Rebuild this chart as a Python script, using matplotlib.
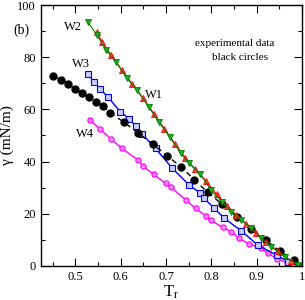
import matplotlib

matplotlib.use("Agg")
import matplotlib.pyplot as plt
from matplotlib.ticker import MultipleLocator

plt.rcParams["font.family"] = ["Liberation Serif", "DejaVu Serif"]
plt.rcParams["mathtext.fontset"] = "stix"

# experimental data (black circles)
exp_t = [0.451, 0.468, 0.484, 0.499, 0.514, 0.530, 0.546, 0.562, 0.576, 0.608,
         0.639, 0.671, 0.702, 0.733, 0.762, 0.792, 0.824, 0.857, 0.888, 0.920,
         0.951, 0.983]
exp_g = [72.9, 71.2, 69.7, 67.9, 66.2, 64.7, 62.9, 61.3, 58.8, 55.0,
         50.9, 46.7, 42.3, 38.0, 33.1, 28.2, 23.6, 18.6, 14.3, 9.9,
         5.6, 2.2]

# W1 (red up triangles)
w1_t = [0.548, 0.558, 0.579, 0.602, 0.625, 0.649, 0.673, 0.696, 0.720, 0.742,
        0.764, 0.788, 0.812, 0.834, 0.855, 0.877, 0.899, 0.921, 0.947, 0.975,
        0.998]
w1_g = [89.5, 86.0, 80.8, 75.2, 69.8, 64.4, 58.4, 52.6, 46.8, 41.5,
        37.0, 32.5, 27.4, 23.0, 19.4, 16.1, 12.4, 9.0, 5.5, 2.0,
        0.1]

# W2 (green down triangles)
w2_t = [0.527, 0.548, 0.568, 0.590, 0.614, 0.636, 0.662, 0.684, 0.708, 0.733,
        0.751, 0.776, 0.799, 0.824, 0.844, 0.866, 0.888, 0.910, 0.932, 0.962,
        0.992]
w2_g = [93.6, 88.5, 82.7, 78.2, 71.9, 67.4, 61.0, 55.2, 49.5, 43.1,
        39.3, 35.4, 29.0, 24.5, 20.7, 17.5, 14.5, 10.6, 7.3, 3.5,
        0.3]

# W3 (blue squares)
w3_t = [0.527, 0.542, 0.555, 0.572, 0.599, 0.618, 0.633, 0.648, 0.677, 0.714,
        0.751, 0.776, 0.784, 0.807, 0.829, 0.866, 0.903, 0.944, 0.970, 0.996]
w3_g = [73.5, 70.6, 67.7, 64.8, 59.1, 56.5, 53.6, 50.4, 45.0, 37.4,
        31.0, 27.8, 25.9, 22.0, 18.2, 13.4, 7.9, 4.1, 1.5, 0.0]

# W4 (magenta circles)
w4_t = [0.533, 0.555, 0.579, 0.603, 0.639, 0.649, 0.673, 0.699, 0.710, 0.744,
        0.766, 0.788, 0.799, 0.825, 0.844, 0.862, 0.884, 0.910, 0.925, 0.944,
        0.966, 0.988, 1.000]
w4_g = [55.9, 52.3, 48.6, 45.0, 40.5, 38.2, 35.1, 31.6, 30.3, 25.2,
        22.0, 19.1, 17.5, 14.7, 13.0, 10.5, 8.3, 6.7, 4.8, 2.8,
        1.2, 0.3, 0.0]

fig = plt.figure(figsize=(3.05, 3.0), dpi=100)
ax = fig.add_axes([0.134, 0.114, 0.856, 0.869])

ax.plot(w4_t, w4_g, color="#ff00ff", linewidth=1.0, marker="o", markersize=3.8,
        markerfacecolor="#ff88ff", markeredgecolor="#ff00ff", markeredgewidth=0.8)
ax.plot(w3_t, w3_g, color="#0000ff", linewidth=1.0, marker="s", markersize=3.8,
        markerfacecolor="#c8ccff", markeredgecolor="#0000ff", markeredgewidth=0.8)
ax.plot(exp_t, exp_g, color="black", linewidth=1.0, linestyle=(0, (4, 3)),
        marker="o", markersize=5, markerfacecolor="black", markeredgecolor="black")
ax.plot(w1_t, w1_g, color="#ff0000", linewidth=1.0, marker="^", markersize=4.2,
        markerfacecolor="#ff4040", markeredgecolor="#ff0000", markeredgewidth=0.6)
ax.plot(w2_t, w2_g, color="#008000", linewidth=0.8, marker="v", markersize=4.5,
        markerfacecolor="#22aa22", markeredgecolor="#008000", markeredgewidth=0.6)

ax.set_xlim(0.424, 1.0)
ax.set_ylim(0, 100)
ax.xaxis.set_major_locator(MultipleLocator(0.1))
ax.xaxis.set_minor_locator(MultipleLocator(0.05))
ax.yaxis.set_major_locator(MultipleLocator(20))
ax.yaxis.set_minor_locator(MultipleLocator(10))
ax.set_xticks([0.5, 0.6, 0.7, 0.8, 0.9, 1.0])
ax.set_xticklabels(["0.5", "0.6", "0.7", "0.8", "0.9", "1"])
ax.tick_params(which="both", direction="in", top=True, right=True, labelsize=9)
ax.tick_params(which="major", length=6, width=0.8)
ax.tick_params(which="minor", length=3, width=0.8)
for spine in ax.spines.values():
    spine.set_linewidth(1.0)

ax.set_xlabel(r"T$_\mathregular{r}$", fontsize=12, labelpad=1)
ax.set_ylabel("γ (mN/m)", fontsize=11, labelpad=2)

ax.text(0.494, 91.7, "W2", fontsize=9, ha="center", va="center")
ax.text(0.513, 77.4, "W3", fontsize=9, ha="center", va="center")
ax.text(0.673, 65.5, "W1", fontsize=9, ha="center", va="center")
ax.text(0.522, 50.5, "W4", fontsize=9, ha="center", va="center")
ax.text(0.851, 85.3, "experimental data", fontsize=8, ha="center", va="center")
ax.text(0.864, 80.0, "black circles", fontsize=8, ha="center", va="center")
fig.text(0.071, 0.90, "(b)", fontsize=10, ha="center", va="center")

fig.savefig("out.png", dpi=100)
